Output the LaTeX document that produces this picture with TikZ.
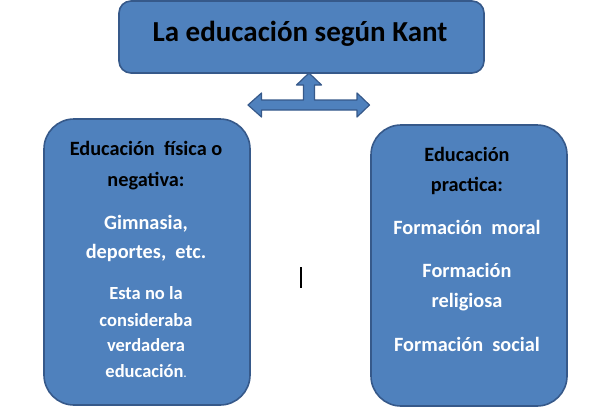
\documentclass[tikz,border=0pt]{standalone}
\usepackage{fontspec}
\setmainfont{Carlito}
\definecolor{boxblue}{HTML}{4F81BD}
\definecolor{boxline}{HTML}{36598A}
\tikzset{
  kbox/.style={draw=boxline, fill=boxblue, line width=1.6pt, rounded corners=#1},
  kbox/.default=12pt,
  dark/.style={anchor=base, text=black, font=\bfseries\fontsize{20.3}{23}\selectfont},
  light/.style={anchor=base, text=white, font=\bfseries\fontsize{20.3}{23}\selectfont},
  small/.style={anchor=base, text=white, font=\bfseries\fontsize{18.5}{21}\selectfont}
}
\begin{document}
\begin{tikzpicture}[x=1pt, y=-1pt]
    \useasboundingbox (0,0) rectangle (601,418);
    % boxes
    \draw[kbox] (119,1) rectangle (484,73);
    \draw[kbox=30pt] (44,119) rectangle (250,405);
    \draw[kbox=30pt] (371,125) rectangle (567,406);
    \node[anchor=base, font=\bfseries\fontsize{29}{32}\selectfont] (title) at (300,41) {La educación según Kant};

    % three way arrow
    \coordinate (hub) at (309,105);
    \draw[fill=boxblue, draw=boxline, line width=1.2pt, line join=round]
        (309,73) -- (321.5,85) -- (314.5,85) -- (314.5,100) -- (357,100) -- (357,93)
        -- (369.5,105) -- (357,117) -- (357,110) -- (261.5,110) -- (261.5,117)
        -- (248,105) -- (261.5,93) -- (261.5,100) -- (303.5,100) -- (303.5,85)
        -- (296.5,85) -- cycle;

    % left box
    \node[dark] (l1) at (146,155) {Educación\ \ física o};
    \node[dark] (l2) at (146,186) {negativa:};
    \node[light] (l3) at (146,229) {Gimnasia,};
    \node[light] (l4) at (146,258) {deportes,\ \ etc.};
    \node[small] (l5) at (146,299) {Esta no la};
    \node[small] (l6) at (146,326) {consideraba};
    \node[small] (l7) at (146,351) {verdadera};
    \node[small] (l8) at (146,377) {educación{\fontsize{11}{12}\selectfont.}};

    % right box
    \node[dark] (r1) at (467,161) {Educación};
    \node[dark] (r2) at (467,191) {practica:};
    \node[light] (r3) at (467,234) {Formación\ \ moral};
    \node[light] (r4) at (467,277) {Formación};
    \node[light] (r5) at (467,307) {religiosa};
    \node[light] (r6) at (467,351) {Formación\ \ social};

    % cursor
    \draw[line width=1.2pt] (301,267) -- (301,288);
\end{tikzpicture}
\end{document}
